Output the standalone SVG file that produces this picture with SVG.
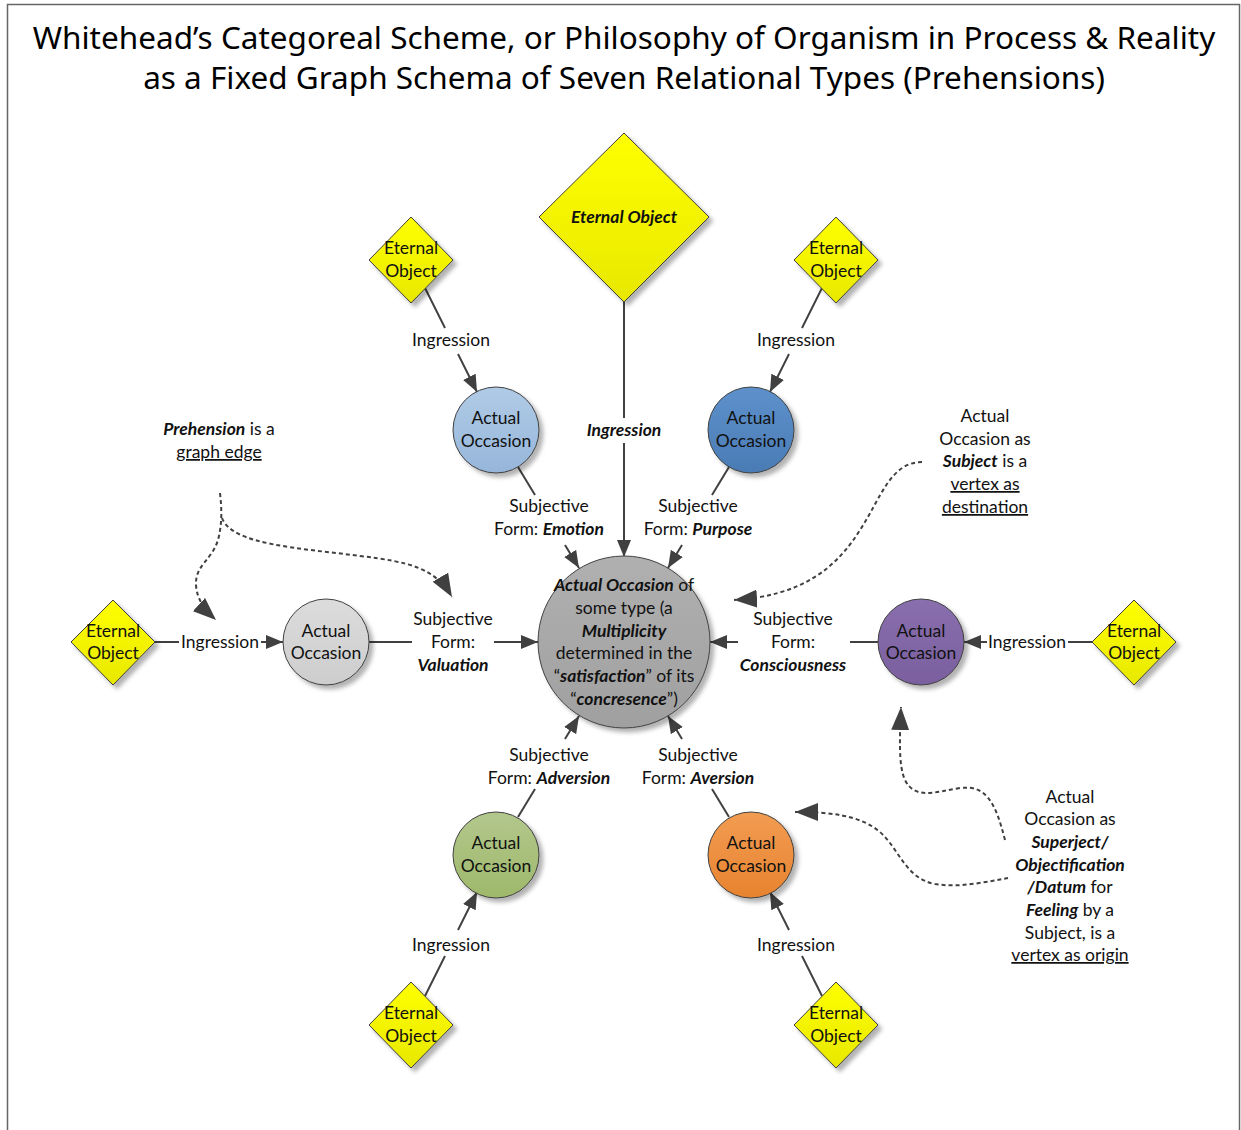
<svg xmlns="http://www.w3.org/2000/svg" width="1241" height="1130" viewBox="0 0 1241 1130">
<style>
text{font-family:Lato,"Liberation Sans",sans-serif;font-size:17.5px;fill:#111;text-anchor:middle}
.title{font-family:"Noto Sans","Open Sans",sans-serif;font-size:31.5px;fill:#000}
.bi{font-weight:bold;font-style:italic}
.u{text-decoration:underline}
.edge{stroke:#404040;stroke-width:2;fill:none}
.dash{stroke:#404040;stroke-width:2;fill:none;stroke-dasharray:4 3}
.node{stroke:#404040;stroke-width:1}
</style>
<defs>
<marker id="ah" markerUnits="userSpaceOnUse" markerWidth="18" markerHeight="14" refX="17" refY="7" orient="auto"><path d="M0,0 L17,7 L0,14 Z" fill="#404040"/></marker>
<marker id="ahd" markerUnits="userSpaceOnUse" markerWidth="24" markerHeight="18" refX="23" refY="9" orient="auto"><path d="M0,0 L23,9 L0,18 Z" fill="#404040"/></marker>
<filter id="sh" x="-20%" y="-20%" width="150%" height="150%"><feDropShadow dx="4" dy="4" stdDeviation="2" flood-color="#000" flood-opacity="0.3"/></filter>
<linearGradient id="gy" x1="0" y1="0" x2="0" y2="1"><stop offset="0" stop-color="#ffff00"/><stop offset="1" stop-color="#e8e800"/></linearGradient>
<linearGradient id="gc" x1="0" y1="0" x2="0" y2="1"><stop offset="0" stop-color="#b0b0b0"/><stop offset="1" stop-color="#a0a0a0"/></linearGradient>
<linearGradient id="glb" x1="0" y1="0" x2="0" y2="1"><stop offset="0" stop-color="#b0cbe6"/><stop offset="1" stop-color="#96b6da"/></linearGradient>
<linearGradient id="gb" x1="0" y1="0" x2="0" y2="1"><stop offset="0" stop-color="#5e91cb"/><stop offset="1" stop-color="#4a7bb5"/></linearGradient>
<linearGradient id="gg" x1="0" y1="0" x2="0" y2="1"><stop offset="0" stop-color="#dcdcdc"/><stop offset="1" stop-color="#cdcdcd"/></linearGradient>
<linearGradient id="gp" x1="0" y1="0" x2="0" y2="1"><stop offset="0" stop-color="#8a6fae"/><stop offset="1" stop-color="#7a5f9e"/></linearGradient>
<linearGradient id="ggr" x1="0" y1="0" x2="0" y2="1"><stop offset="0" stop-color="#b3c78d"/><stop offset="1" stop-color="#9eb96a"/></linearGradient>
<linearGradient id="go" x1="0" y1="0" x2="0" y2="1"><stop offset="0" stop-color="#f29c52"/><stop offset="1" stop-color="#e7832f"/></linearGradient>
</defs>
<rect x="7.5" y="4.5" width="1232" height="1140" fill="#fff" stroke="#666" stroke-width="1.5"/>
<text class="title" x="624" y="49">Whitehead’s Categoreal Scheme, or Philosophy of Organism in Process &amp; Reality</text>
<text class="title" x="624" y="89">as a Fixed Graph Schema of Seven Relational Types (Prehensions)</text>

<g id="connectors">
<path class="edge" d="M425,288 L445,328"/>
<path class="edge" d="M458,354 L477,392" marker-end="url(#ah)"/>
<path class="edge" d="M518,467 L535,495"/>
<path class="edge" d="M565,545 L579,568" marker-end="url(#ah)"/>
<path class="edge" d="M624,302 L624,418"/>
<path class="edge" d="M624,443 L624,557" marker-end="url(#ah)"/>
<path class="edge" d="M822,288 L802,328"/>
<path class="edge" d="M789,354 L770,392" marker-end="url(#ah)"/>
<path class="edge" d="M729,467 L712,495"/>
<path class="edge" d="M682,545 L668,568" marker-end="url(#ah)"/>
<path class="edge" d="M155,642 L179,642"/>
<path class="edge" d="M261,642 L283,642" marker-end="url(#ah)"/>
<path class="edge" d="M369,642 L412,642"/>
<path class="edge" d="M494,642 L538,642" marker-end="url(#ah)"/>
<path class="edge" d="M1092,642 L1068,642"/>
<path class="edge" d="M987,642 L964,642" marker-end="url(#ah)"/>
<path class="edge" d="M878,642 L850,642"/>
<path class="edge" d="M738,642 L710,642" marker-end="url(#ah)"/>
<path class="edge" d="M425,996 L445,956"/>
<path class="edge" d="M458,930 L477,892" marker-end="url(#ah)"/>
<path class="edge" d="M518,817 L535,789"/>
<path class="edge" d="M565,739 L579,716" marker-end="url(#ah)"/>
<path class="edge" d="M822,996 L802,956"/>
<path class="edge" d="M789,930 L770,892" marker-end="url(#ah)"/>
<path class="edge" d="M729,817 L712,789"/>
<path class="edge" d="M682,739 L668,716" marker-end="url(#ah)"/>
<path class="dash" d="M220,493 C222,510 222,525 218,540 C212,560 195,565 196,585 C197,600 205,610 216,620" marker-end="url(#ahd)"/>
<path class="dash" d="M222,518 C232,545 300,548 360,556 C410,562 435,568 452,597" marker-end="url(#ahd)"/>
<path class="dash" d="M922,462 C890,462 880,500 860,530 C835,570 800,596 734,600" marker-end="url(#ahd)"/>
<path class="dash" d="M1005,840 C995,800 985,785 960,788 C935,792 915,800 905,780 C898,765 900,735 901,707" marker-end="url(#ahd)"/>
<path class="dash" d="M1008,878 C985,882 960,888 935,884 C905,878 900,850 880,832 C860,815 830,812 795,812" marker-end="url(#ahd)"/>
</g>

<g id="center" filter="url(#sh)"><circle class="node" cx="624" cy="642" r="86" fill="url(#gc)"/></g>
<g id="center-text">
<text x="624" y="591"><tspan class="bi">Actual Occasion</tspan> of</text>
<text x="624" y="614">some type (a</text>
<text x="624" y="637" class="bi">Multiplicity</text>
<text x="624" y="659">determined in the</text>
<text x="624" y="682">“<tspan class="bi">satisfaction</tspan>” of its</text>
<text x="624" y="705">“<tspan class="bi">concresence</tspan>”)</text>
</g>

<g id="eo-top"><path class="node" filter="url(#sh)" d="M624,133 L709,217 L624,302 L539,217 Z" fill="url(#gy)"/><text x="624" y="223" class="bi">Eternal Object</text></g>
<g id="eo-tl"><path class="node" filter="url(#sh)" d="M411,217 L453,260 L411,303 L369,260 Z" fill="url(#gy)"/><text x="411" y="254">Eternal</text><text x="411" y="277">Object</text></g>
<g id="eo-tr"><path class="node" filter="url(#sh)" d="M836,217 L878,260 L836,303 L794,260 Z" fill="url(#gy)"/><text x="836" y="254">Eternal</text><text x="836" y="277">Object</text></g>
<g id="eo-l"><path class="node" filter="url(#sh)" d="M113,600 L155,642 L113,685 L71,642 Z" fill="url(#gy)"/><text x="113" y="637">Eternal</text><text x="113" y="659">Object</text></g>
<g id="eo-r"><path class="node" filter="url(#sh)" d="M1134,600 L1176,642 L1134,685 L1092,642 Z" fill="url(#gy)"/><text x="1134" y="637">Eternal</text><text x="1134" y="659">Object</text></g>
<g id="eo-bl"><path class="node" filter="url(#sh)" d="M411,982 L453,1025 L411,1068 L369,1025 Z" fill="url(#gy)"/><text x="411" y="1019">Eternal</text><text x="411" y="1042">Object</text></g>
<g id="eo-br"><path class="node" filter="url(#sh)" d="M836,982 L878,1025 L836,1068 L794,1025 Z" fill="url(#gy)"/><text x="836" y="1019">Eternal</text><text x="836" y="1042">Object</text></g>

<g id="ao-tl"><circle class="node" filter="url(#sh)" cx="496" cy="430" r="43" fill="url(#glb)"/><text x="496" y="424">Actual</text><text x="496" y="447">Occasion</text></g>
<g id="ao-tr"><circle class="node" filter="url(#sh)" cx="751" cy="430" r="43" fill="url(#gb)"/><text x="751" y="424">Actual</text><text x="751" y="447">Occasion</text></g>
<g id="ao-l"><circle class="node" filter="url(#sh)" cx="326" cy="642" r="43" fill="url(#gg)"/><text x="326" y="637">Actual</text><text x="326" y="659">Occasion</text></g>
<g id="ao-r"><circle class="node" filter="url(#sh)" cx="921" cy="642" r="43" fill="url(#gp)"/><text x="921" y="637">Actual</text><text x="921" y="659">Occasion</text></g>
<g id="ao-bl"><circle class="node" filter="url(#sh)" cx="496" cy="855" r="43" fill="url(#ggr)"/><text x="496" y="849">Actual</text><text x="496" y="872">Occasion</text></g>
<g id="ao-br"><circle class="node" filter="url(#sh)" cx="751" cy="855" r="43" fill="url(#go)"/><text x="751" y="849">Actual</text><text x="751" y="872">Occasion</text></g>

<g id="labels">
<text x="451" y="346">Ingression</text>
<text x="624" y="436" class="bi">Ingression</text>
<text x="796" y="346">Ingression</text>
<text x="549" y="512">Subjective</text>
<text x="549" y="535">Form: <tspan class="bi">Emotion</tspan></text>
<text x="698" y="512">Subjective</text>
<text x="698" y="535">Form: <tspan class="bi">Purpose</tspan></text>
<text x="220" y="648">Ingression</text>
<text x="453" y="625">Subjective</text>
<text x="453" y="648">Form:</text>
<text x="453" y="671" class="bi">Valuation</text>
<text x="793" y="625">Subjective</text>
<text x="793" y="648">Form:</text>
<text x="793" y="671" class="bi">Consciousness</text>
<text x="1027" y="648">Ingression</text>
<text x="549" y="761">Subjective</text>
<text x="549" y="784">Form: <tspan class="bi">Adversion</tspan></text>
<text x="698" y="761">Subjective</text>
<text x="698" y="784">Form: <tspan class="bi">Aversion</tspan></text>
<text x="451" y="951">Ingression</text>
<text x="796" y="951">Ingression</text>
</g>

<g id="notes">
<text x="219" y="435"><tspan class="bi">Prehension</tspan> is a</text>
<text x="219" y="458" class="u">graph edge</text>
<text x="985" y="422">Actual</text>
<text x="985" y="445">Occasion as</text>
<text x="985" y="467"><tspan class="bi">Subject</tspan> is a</text>
<text x="985" y="490" class="u">vertex as</text>
<text x="985" y="513" class="u">destination</text>
<text x="1070" y="803">Actual</text>
<text x="1070" y="825">Occasion as</text>
<text x="1070" y="848" class="bi">Superject/</text>
<text x="1070" y="871" class="bi">Objectification</text>
<text x="1070" y="893"><tspan class="bi">/Datum</tspan> for</text>
<text x="1070" y="916"><tspan class="bi">Feeling</tspan> by a</text>
<text x="1070" y="939">Subject, is a</text>
<text x="1070" y="961" class="u">vertex as origin</text>
</g>
</svg>
